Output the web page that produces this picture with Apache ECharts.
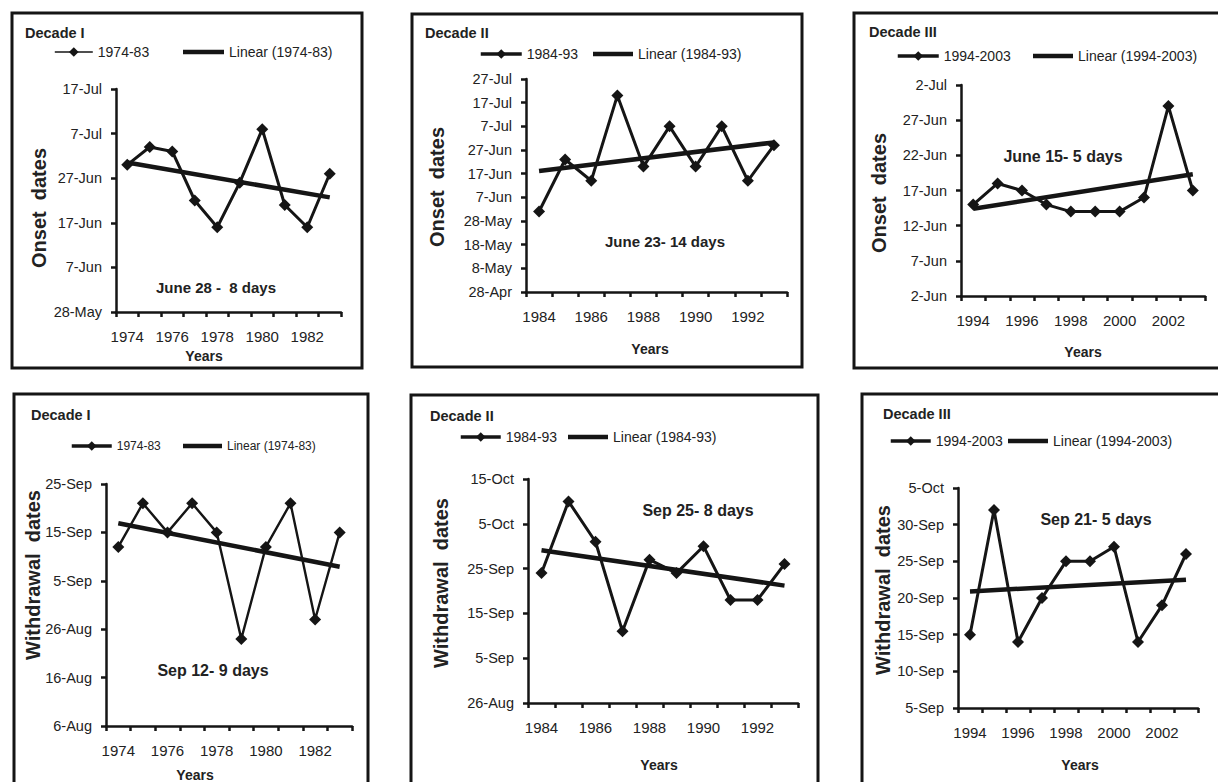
<!DOCTYPE html>
<html><head><meta charset="utf-8">
<script src="https://cdn.jsdelivr.net/npm/echarts@6/dist/echarts.min.js"></script>
<style>html,body{margin:0;padding:0;background:#fff}#c{width:1218px;height:782px}</style>
</head><body><div id="c"></div>
<script>
// ---------- data ----------
const years1 = ['1974','1975','1976','1977','1978','1979','1980','1981','1982','1983'];
const years2 = ['1984','1985','1986','1987','1988','1989','1990','1991','1992','1993'];
const years3 = ['1994','1995','1996','1997','1998','1999','2000','2001','2002','2003'];

const onset1 = ['30-Jun','4-Jul','3-Jul','22-Jun','16-Jun','26-Jun','8-Jul','21-Jun','16-Jun','28-Jun'];
const onset2 = ['1-Jun','23-Jun','14-Jun','20-Jul','20-Jun','7-Jul','20-Jun','7-Jul','14-Jun','29-Jun'];
const onset3 = ['15-Jun','18-Jun','17-Jun','15-Jun','14-Jun','14-Jun','14-Jun','16-Jun','29-Jun','17-Jun'];
const withdrawal1 = ['12-Sep','21-Sep','15-Sep','21-Sep','15-Sep','24-Aug','12-Sep','21-Sep','28-Aug','15-Sep'];
const withdrawal2 = ['24-Sep','10-Oct','1-Oct','11-Sep','27-Sep','24-Sep','30-Sep','18-Sep','18-Sep','26-Sep'];
const withdrawal3 = ['15-Sep','2-Oct','14-Sep','20-Sep','25-Sep','25-Sep','27-Sep','14-Sep','19-Sep','26-Sep'];

// linear trend end points (first year, last year)
const onsetTrend1 = ['30.5-Jun','22.7-Jun'];
const onsetTrend2 = ['18.1-Jun','30.2-Jun'];
const onsetTrend3 = ['14.4-Jun','19.3-Jun'];
const withdrawalTrend1 = ['16.9-Sep','7.9-Sep'];
const withdrawalTrend2 = ['29.1-Sep','21.2-Sep'];
const withdrawalTrend3 = ['20.9-Sep','22.5-Sep'];

// y-axis tick labels
const onsetTicks1 = ['28-May','7-Jun','17-Jun','27-Jun','7-Jul','17-Jul'];
const onsetTicks2 = ['28-Apr','8-May','18-May','28-May','7-Jun','17-Jun','27-Jun','7-Jul','17-Jul','27-Jul'];
const onsetTicks3 = ['2-Jun','7-Jun','12-Jun','17-Jun','22-Jun','27-Jun','2-Jul'];
const withdrawalTicks1 = ['6-Aug','16-Aug','26-Aug','5-Sep','15-Sep','25-Sep'];
const withdrawalTicks2 = ['26-Aug','5-Sep','15-Sep','25-Sep','5-Oct','15-Oct'];
const withdrawalTicks3 = ['5-Sep','10-Sep','15-Sep','20-Sep','25-Sep','30-Sep','5-Oct'];

const seriesNames = ['1974-83','1984-93','1994-2003'];
const decadeLabels = ['Decade I','Decade II','Decade III'];
const onsetNotes = ['June 28 -  8 days','June 23- 14 days','June 15- 5 days'];
const withdrawalNotes = ['Sep 12- 9 days','Sep 25- 8 days','Sep 21- 5 days'];

// ---------- date helpers ----------
const MONTHS = ['Jan','Feb','Mar','Apr','May','Jun','Jul','Aug','Sep','Oct','Nov','Dec'];
const MDAYS = [31,28,31,30,31,30,31,31,30,31,30,31];
function doy(s){ const p = s.split('-'); const mi = MONTHS.indexOf(p[1]); let n = 0; for(let i=0;i<mi;i++) n += MDAYS[i]; return n + parseFloat(p[0]); }
function dateLabel(n){ n = Math.round(n); let i = 0; while(n > MDAYS[i]){ n -= MDAYS[i]; i++; } return n + '-' + MONTHS[i]; }

// ---------- layout ----------
const layout = [
 {grid:[116,89,225,223], frame:[12,13,350,355], decade:[25,33], legA:[54,53,38,1.6], legB:[183,53,41], legFont:14, yTitle:[39,208], xTitle:[204,356], note:[216,287,15]},
 {grid:[526,79,261,213], frame:[412,14,390,353], decade:[425,33], legA:[479,55,41,3.5], legB:[593,55,40], legFont:14, yTitle:[437,187], xTitle:[650,349], note:[665,241,15]},
 {grid:[961,85,244,211], frame:[854,13,420,355], decade:[869,32], legA:[896,57,41,3.5], legB:[1033,57,40], legFont:14, yTitle:[879,193], xTitle:[1083,352], note:[1063,156,16]},
 {grid:[106,484,246,242], frame:[14,394,354,420], decade:[31,415], legA:[70,448,40,3.5], legB:[183,448,39], legFont:12, yTitle:[33,575], xTitle:[195,775], note:[213,670,16]},
 {grid:[528,479,270,224], frame:[411,395,407,420], decade:[430,416], legA:[459,438,40,3.5], legB:[568,438,40], legFont:14, yTitle:[441,583], xTitle:[659,765], note:[698,510,16]},
 {grid:[958,488,240,220], frame:[862,394,420,420], decade:[883,414], legA:[889,442,40,3.5], legB:[1008,442,40], legFont:14, yTitle:[883,590], xTitle:[1080,765], note:[1096,519,16]}
];

const panelData = [
 {years:years1, values:onset1, trend:onsetTrend1, ticks:onsetTicks1, name:seriesNames[0], decade:decadeLabels[0], yName:'Onset  dates', note:onsetNotes[0]},
 {years:years2, values:onset2, trend:onsetTrend2, ticks:onsetTicks2, name:seriesNames[1], decade:decadeLabels[1], yName:'Onset  dates', note:onsetNotes[1]},
 {years:years3, values:onset3, trend:onsetTrend3, ticks:onsetTicks3, name:seriesNames[2], decade:decadeLabels[2], yName:'Onset  dates', note:onsetNotes[2]},
 {years:years1, values:withdrawal1, trend:withdrawalTrend1, ticks:withdrawalTicks1, name:seriesNames[0], decade:decadeLabels[0], yName:'Withdrawal  dates', note:withdrawalNotes[0]},
 {years:years2, values:withdrawal2, trend:withdrawalTrend2, ticks:withdrawalTicks2, name:seriesNames[1], decade:decadeLabels[1], yName:'Withdrawal  dates', note:withdrawalNotes[1]},
 {years:years3, values:withdrawal3, trend:withdrawalTrend3, ticks:withdrawalTicks3, name:seriesNames[2], decade:decadeLabels[2], yName:'Withdrawal  dates', note:withdrawalNotes[2]}
];

const INK = '#151515';
const FONT = '"Liberation Sans", Arial, sans-serif';

const grids = [], xAxes = [], yAxes = [], series = [], legends = [], graphics = [];
panelData.forEach((p, i) => {
  const L = layout[i];
  const base = doy(p.ticks[0]);
  const span = doy(p.ticks[p.ticks.length-1]) - base;
  const step = doy(p.ticks[1]) - base;
  grids.push({left:L.grid[0], top:L.grid[1], width:L.grid[2], height:L.grid[3], containLabel:false, outerBoundsMode:'none'});
  xAxes.push({
    type:'category', gridIndex:i, data:p.years, boundaryGap:true,
    axisLine:{show:true, lineStyle:{color:INK, width:2.5}},
    axisTick:{show:true, interval:0, length:5, inside:false, lineStyle:{color:INK, width:2.5}},
    axisLabel:{interval:1, fontSize:15, margin:17, color:'#222', fontFamily:FONT},
    splitLine:{show:false}
  });
  yAxes.push({
    type:'value', gridIndex:i, min:0, max:span, interval:step,
    axisLine:{show:true, lineStyle:{color:INK, width:2.5}},
    axisTick:{show:true, length:5, inside:false, lineStyle:{color:INK, width:2.5}},
    axisLabel:{fontSize:14.5, margin:14, color:'#222', fontFamily:FONT, formatter:v => dateLabel(base + v)},
    splitLine:{show:false}
  });
  const linName = 'Linear (' + p.name + ')';
  series.push({
    name:p.name, type:'line', xAxisIndex:i, yAxisIndex:i,
    data:p.values.map(s => doy(s) - base),
    symbol:'diamond', symbolSize:12, showSymbol:true,
    lineStyle:{color:INK, width: i === 3 ? 2.4 : 3}, itemStyle:{color:INK},
    animation:false, z:3
  });
  series.push({
    name:linName, type:'line', xAxisIndex:i, yAxisIndex:i,
    data:[[p.years[0], doy(p.trend[0]) - base], [p.years[p.years.length-1], doy(p.trend[1]) - base]],
    symbol:'none', lineStyle:{color:INK, width:4.5}, itemStyle:{color:INK},
    animation:false, z:2
  });
  legends.push({data:[p.name], left:L.legA[0], top:L.legA[1]-8, itemWidth:L.legA[2], itemHeight:12, padding:0,
    lineStyle:{width:L.legA[3]},
    textStyle:{fontSize:L.legFont, color:'#222', fontFamily:FONT}, selectedMode:false});
  legends.push({data:[{name:linName, icon:'rect'}], left:L.legB[0], top:L.legB[1]-8, itemWidth:L.legB[2], itemHeight:4.5, padding:0,
    textStyle:{fontSize:L.legFont, color:'#222', fontFamily:FONT}, selectedMode:false});
  graphics.push({type:'rect', shape:{x:L.frame[0], y:L.frame[1], width:L.frame[2], height:L.frame[3]},
    style:{fill:'none', stroke:INK, lineWidth:3}, silent:true});
  graphics.push({type:'text', x:L.decade[0], y:L.decade[1], style:{text:p.decade, font:'bold 14.5px ' + FONT, fill:'#222', textAlign:'left', textVerticalAlign:'middle'}});
  graphics.push({type:'text', x:L.yTitle[0], y:L.yTitle[1], rotation:Math.PI/2, style:{text:p.yName, font:'bold 20px ' + FONT, fill:'#222', textAlign:'center', textVerticalAlign:'middle'}});
  graphics.push({type:'text', x:L.xTitle[0], y:L.xTitle[1], style:{text:'Years', font:'bold 14px ' + FONT, fill:'#222', textAlign:'center', textVerticalAlign:'middle'}});
  graphics.push({type:'text', x:L.note[0], y:L.note[1], style:{text:p.note, font:'bold ' + L.note[2] + 'px ' + FONT, fill:'#222', textAlign:'center', textVerticalAlign:'middle'}, z:10});
});

const chart = echarts.init(document.getElementById('c'), null, {renderer:'svg', width:1218, height:782});
chart.setOption({
  backgroundColor:'#ffffff', animation:false,
  grid:grids, xAxis:xAxes, yAxis:yAxes, series:series, legend:legends, graphic:graphics
});
</script>
</body></html>
